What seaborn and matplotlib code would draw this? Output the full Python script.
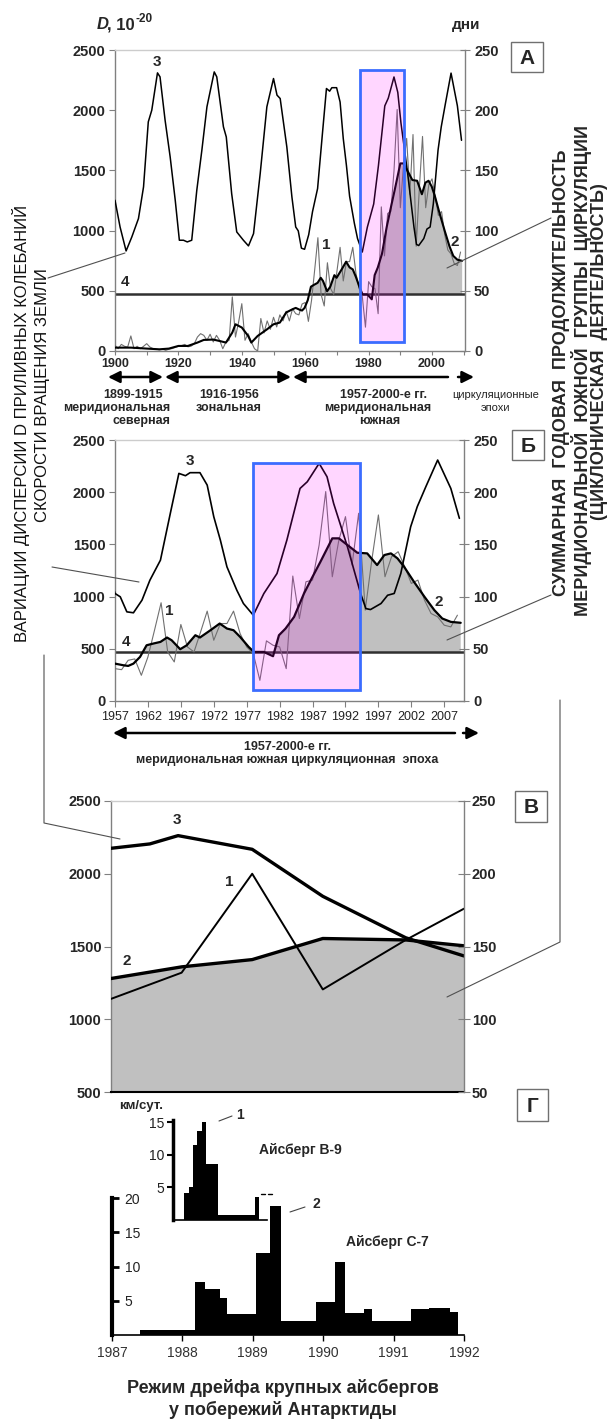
import numpy as np
import matplotlib
matplotlib.use('Agg')
import matplotlib.pyplot as plt
import seaborn as sns
from matplotlib.patches import Rectangle, FancyArrowPatch
from matplotlib.lines import Line2D

sns.set_theme(style='white')
plt.rcParams['font.family'] = ['Liberation Sans', 'DejaVu Sans']
plt.rcParams['axes.unicode_minus'] = False

# ---------------- DATA ----------------
# series 1: annual values (thin line), 1900-2009
years1 = list(range(1900, 2010))
d1 = [47, 19, 55, 39, 33, 125, 19, 39, 19, 39,
      61, 33, 20, 15, 10, 15, 5, 15, 20, 30,
      39, 45, 55, 35, 40, 60, 116, 144, 130, 89,
      139, 75, 130, 89, 19, 75, 89, 449, 116, 241,
      393, 89, 144, 75, 19, 0, 270, 150, 250, 180,
      280, 200, 300, 250, 330, 250, 350,
      310, 300, 390, 403, 246, 422, 678, 941, 470, 374,
      733, 518, 470, 662, 861, 582, 742, 742, 861, 646,
      518, 454, 198, 576, 534, 518, 310, 1197, 790, 1142,
      1158, 1494, 2006, 1190, 1542, 1766, 1302, 1798, 870, 1350,
      1782, 1190, 1382, 1430, 1286, 1126, 1158, 966, 838, 806,
      726, 710, 822]
# series 2: smoothed (thick line, filled above level 4)
years2 = [1900, 1905, 1910, 1914, 1917, 1920, 1923, 1926, 1928, 1931, 1933, 1935,
          1937, 1938, 1940, 1942, 1943, 1945, 1948, 1950, 1952, 1954, 1956,
          1957, 1958.3, 1959, 1959.8, 1960.8, 1961.8, 1962.8, 1963.9, 1964.9, 1965.6,
          1966.9, 1967.9, 1969.2, 1969.9, 1971.5, 1972.9, 1974, 1975, 1976, 1977.3,
          1978.1, 1979.6, 1981, 1981.9, 1982.9, 1984.2, 1985.7, 1987, 1988.2, 1990,
          1991, 1992.3, 1993.8, 1995.3, 1996.8, 1997.9, 1998.9, 1999.9, 2000.9, 2002.4,
          2004, 2005.5, 2006.7, 2008, 2009.5]
d2 = [28, 28, 20, 14, 20, 42, 42, 70, 92, 95, 83, 70,
      153, 222, 195, 125, 70, 125, 181, 222, 236, 320, 347,
      358, 342, 336, 358, 422, 534, 550, 566, 608, 582,
      496, 534, 630, 608, 678, 742, 694, 678, 614, 518,
      470, 470, 429, 630, 694, 806, 1030, 1190, 1334, 1558,
      1558, 1494, 1420, 1414, 1302, 1398, 1414, 1366, 1286, 1142,
      998, 870, 790, 758, 749]
# series 3: tidal dispersion D
years3 = [1900, 1901.6, 1903.5, 1905.3, 1907.4, 1909, 1910.5, 1911.6, 1913.4, 1914.2,
          1915.8, 1917.4, 1919, 1920.3, 1921.6, 1922.8, 1924.2, 1925.8, 1927.4, 1929,
          1931.3, 1932.1, 1934.2, 1935.1, 1936.8, 1938.4, 1940.5, 1942.1, 1943.7, 1945.8,
          1947.9, 1950, 1951.1, 1952.1, 1954.2, 1955.8,
          1957, 1957.8, 1958.8, 1959.8, 1961.1, 1962.3, 1963.9, 1965.4, 1966.7, 1967.7,
          1968.4, 1969.9, 1971, 1972, 1973, 1974, 1975.5, 1976.5, 1978, 1979.6,
          1981.6, 1983.1, 1985.1, 1986.2, 1988, 1989.2, 1990.2, 1992.3, 1994.3, 1995.1,
          1995.8, 1997.4, 1998.4, 1999.4, 2000.4, 2001.9, 2002.9, 2004.2, 2006, 2008, 2009.3]
d3 = [1252, 1030, 831, 947, 1100, 1363, 1903, 2000, 2310, 2277,
      1917, 1612, 1252, 920, 920, 906, 920, 1335, 1668, 2028,
      2318, 2277, 1862, 1778, 1307, 989, 920, 873, 975, 1474,
      2028, 2263, 2125, 2097, 1695, 1280,
      1030, 998, 854, 845, 966, 1157, 1349, 1797, 2180, 2158,
      2187, 2187, 2068, 1765, 1541, 1285, 1061, 934, 822, 1029,
      1221, 1541, 2036, 2100, 2276, 2148, 1893, 1477, 1029, 885,
      876, 934, 1013, 1030, 1221, 1669, 1861, 2052, 2308, 2036, 1750]
level4 = 470

# panel V (averaged periods)
v_x3 = [0, 1.1, 1.9, 4.0, 6.0, 8.35, 10]
v_d3 = [2175, 2205, 2262, 2168, 1845, 1560, 1435]
v_x12 = [0, 2, 4, 6, 8.35, 10]
v_d2 = [1280, 1360, 1410, 1555, 1545, 1505]
v_d1 = [1140, 1320, 2000, 1205, 1545, 1760]

# panel G: iceberg drift speed, km/day
c7_start = [1987.40, 1988.18, 1988.32, 1988.53, 1988.64, 1989.05, 1989.25, 1989.40,
            1989.90, 1990.17, 1990.31, 1990.58, 1990.70, 1991.25, 1991.50, 1991.80]
c7_end = [1988.18, 1988.32, 1988.53, 1988.64, 1989.05, 1989.25, 1989.40, 1989.90,
          1990.17, 1990.31, 1990.58, 1990.70, 1991.25, 1991.50, 1991.80, 1991.92]
c7_val = [0.8, 7.8, 6.7, 5.4, 3.0, 11.9, 18.9, 2.0, 4.8, 10.6, 3.2, 3.8, 2.0, 3.8, 4.0, 3.3]
b9_start = [1988.02, 1988.09, 1988.16, 1988.21, 1988.28, 1988.34, 1988.51, 1989.03]
b9_end = [1988.09, 1988.16, 1988.21, 1988.28, 1988.34, 1988.51, 1989.03, 1989.08]
b9_val = [4.2, 5.1, 11.5, 13.6, 15.1, 8.6, 0.7, 3.6]

# ---------------- FIGURE ----------------
W, H = 610, 1421
fig = plt.figure(figsize=(W / 100, H / 100), dpi=100)
fig.patch.set_facecolor('white')

GRAY_FILL = '#c0c0c0'
SP = '#808080'


def box(l, t, r, b):
    ax = fig.add_axes([l / W, 1 - b / H, (r - l) / W, (b - t) / H])
    ax.set_facecolor('none')
    return ax


def ftext(x, y, s, **kw):
    kw.setdefault('ha', 'center')
    kw.setdefault('va', 'center')
    fig.text(x / W, 1 - y / H, s, **kw)


def fline(xs, ys, **kw):
    kw.setdefault('color', '#505050')
    kw.setdefault('lw', 0.8)
    fig.add_artist(Line2D([x / W for x in xs], [1 - y / H for y in ys],
                          transform=fig.transFigure, **kw))


def farrow(x1, x2, y, style):
    fig.add_artist(FancyArrowPatch((x1 / W, 1 - y / H), (x2 / W, 1 - y / H),
                                   transform=fig.transFigure,
                                   arrowstyle=style + ',head_length=0.7,head_width=0.35',
                                   mutation_scale=10, lw=1.8, color='black',
                                   shrinkA=0, shrinkB=0))


def letter_box(l, t, r, b, s):
    fig.add_artist(Rectangle((l / W, 1 - b / H), (r - l) / W, (b - t) / H,
                             transform=fig.transFigure, fill=False,
                             edgecolor='#707070', lw=1))
    ftext((l + r) / 2, (t + b) / 2 + 1, s, fontsize=15, fontweight='bold')


def right_twin(ax, lo, hi, step, fs=10.5):
    tw = ax.twinx()
    tw.set_ylim(lo, hi)
    ticks = list(range(lo, hi + 1, step))
    tw.set_yticks(ticks, labels=[str(t) for t in ticks], fontweight='bold', fontsize=fs)
    tw.tick_params(axis='y', right=True, direction='inout', length=7, width=0.8,
                   color=SP, pad=3)
    for s in ['left', 'top', 'bottom']:
        tw.spines[s].set_visible(False)
    tw.spines['right'].set_color(SP)
    tw.spines['right'].set_linewidth(1)
    tw.grid(False)
    return tw


def base_spines(ax):
    ax.spines['left'].set_color(SP)
    ax.spines['bottom'].set_color(SP)
    ax.spines['top'].set_color('#cccccc')
    ax.spines['right'].set_visible(False)
    for s in ['left', 'bottom', 'top']:
        ax.spines[s].set_linewidth(1)
    ax.grid(False)


def draw_series(ax, lw2=1.5, lw3=1.1):
    y2 = np.array(d2, dtype=float)
    ax.fill_between(years2, y2, level4, where=y2 >= level4, interpolate=True,
                    color=GRAY_FILL, lw=0, zorder=1)
    ax.axhline(level4, color='#303030', lw=1.8, zorder=2)
    sns.lineplot(x=years1, y=d1, ax=ax, color='#707070', lw=0.8, zorder=3)
    sns.lineplot(x=years2, y=d2, ax=ax, color='black', lw=lw2, zorder=4)
    sns.lineplot(x=years3, y=d3, ax=ax, color='black', lw=lw3, zorder=4)
    ax.set_xlabel('')
    ax.set_ylabel('')


def pink(ax, x0, x1, y0, y1):
    ax.add_patch(Rectangle((x0, y0), x1 - x0, y1 - y0, facecolor=(1, 0, 1, 0.16),
                           edgecolor='none', zorder=6))
    ax.add_patch(Rectangle((x0, y0), x1 - x0, y1 - y0, fill=False,
                           edgecolor='#3b6cff', lw=2, zorder=7))


# ---------- Panel A ----------
axA = box(115, 50, 465, 351)
draw_series(axA)
axA.set_xlim(1900, 2010.4)
axA.set_ylim(0, 2500)
pink(axA, 1977.2, 1991.3, 75, 2330)
xt = list(range(1900, 2011, 10))
axA.set_xticks(xt, labels=[str(t) if (t % 20 == 0 and t <= 2000) else '' for t in xt],
               fontweight='bold', fontsize=9)
yt = list(range(0, 2501, 500))
axA.set_yticks(yt, labels=[str(t) for t in yt], fontweight='bold', fontsize=10.5)
axA.tick_params(axis='x', bottom=True, direction='out', length=3, width=0.8, color=SP, pad=2)
axA.tick_params(axis='y', left=True, direction='out', length=4, width=0.8, color=SP, pad=3)
base_spines(axA)
right_twin(axA, 0, 250, 50)

# ---------- Panel B ----------
axB = box(115, 440, 464, 701)
draw_series(axB, lw2=1.6, lw3=1.2)
axB.set_xlim(1957, 2010)
axB.set_ylim(0, 2500)
pink(axB, 1978.0, 1994.2, 109, 2283)
xt = list(range(1957, 2008, 5))
axB.set_xticks(xt, labels=[str(t) for t in xt], fontsize=9, color='#222222')
axB.set_yticks(yt, labels=[str(t) for t in yt], fontweight='bold', fontsize=10.5)
axB.tick_params(axis='x', bottom=True, direction='out', length=4, width=0.8, color=SP, pad=3)
axB.tick_params(axis='y', left=True, direction='out', length=4, width=0.8, color=SP, pad=3)
base_spines(axB)
right_twin(axB, 0, 250, 50)

# ---------- Panel V ----------
axC = box(111, 801, 464, 1092)
axC.fill_between(v_x12, v_d2, 500, color=GRAY_FILL, lw=0, zorder=1)
sns.lineplot(x=v_x12, y=v_d1, ax=axC, color='black', lw=1.4, zorder=3)
sns.lineplot(x=v_x12, y=v_d2, ax=axC, color='black', lw=2.4, zorder=4)
sns.lineplot(x=v_x3, y=v_d3, ax=axC, color='black', lw=2.4, zorder=4)
axC.set_xlabel('')
axC.set_ylabel('')
axC.set_xlim(0, 10)
axC.set_ylim(500, 2500)
axC.set_xticks([])
axC.set_yticks(yt[1:], labels=[str(t) for t in yt[1:]], fontweight='bold', fontsize=10.5)
axC.tick_params(axis='y', left=True, direction='out', length=5, width=0.8, color=SP, pad=2)
base_spines(axC)
axC.spines['bottom'].set_color('black')
axC.spines['bottom'].set_linewidth(1.5)
twC = right_twin(axC, 50, 250, 50)
twC.tick_params(axis='y', length=9, pad=1)

# ---------- Panel G ----------
axD = box(112, 1198, 464, 1335)
axD.bar(c7_start, c7_val, width=np.array(c7_end) - np.array(c7_start), align='edge',
        color='black', lw=0)
axD.set_xlim(1987, 1992)
axD.set_ylim(0, 20)
axD.set_xticks(range(1987, 1993), labels=[str(t) for t in range(1987, 1993)],
               fontsize=10, color='#333333')
axD.set_yticks([5, 10, 15, 20], labels=['5', '10', '15', '20'], fontsize=10,
               color='#222222', ha='left')
axD.tick_params(axis='x', bottom=True, direction='out', length=4, width=1, color='black', pad=4)
axD.tick_params(axis='y', left=True, direction='in', length=5, width=2, color='black', pad=-9)
for s in ['top', 'right']:
    axD.spines[s].set_visible(False)
axD.spines['left'].set_color('black')
axD.spines['left'].set_linewidth(3)
axD.spines['bottom'].set_color('black')
axD.spines['bottom'].set_linewidth(1.2)
axD.grid(False)

axE = box(173, 1120, 267, 1220)
axE.bar(b9_start, b9_val, width=np.array(b9_end) - np.array(b9_start), align='edge',
        color='black', lw=0)
axE.set_xlim(1987.87, 1989.2)
axE.set_ylim(0, 15.35)
axE.set_xticks([])
axE.set_yticks([5, 10, 15], labels=['5', '10', '15'], fontsize=10, color='#222222')
axE.tick_params(axis='y', left=True, direction='out', length=4, width=1.5, color='black', pad=2)
for s in ['top', 'right']:
    axE.spines[s].set_visible(False)
axE.spines['left'].set_color('black')
axE.spines['left'].set_linewidth(2.5)
axE.spines['bottom'].set_color('black')
axE.spines['bottom'].set_linewidth(1.2)
axE.grid(False)

# ---------------- TEXT & ANNOTATIONS ----------------
B = dict(fontweight='bold')
# header
fig.text(97 / W, 1 - 29 / H, 'D', fontsize=12, fontweight='bold', style='italic',
         ha='left', va='baseline')
fig.text(107 / W, 1 - 29 / H, ', 10', fontsize=12, fontweight='bold', ha='left', va='baseline')
fig.text(136 / W, 1 - 22 / H, '-20', fontsize=8.5, fontweight='bold', ha='left', va='baseline')
ftext(466, 25, 'дни', fontsize=11, **B)

letter_box(511, 42, 543, 72, 'А')
letter_box(512, 430, 544, 460, 'Б')
letter_box(515, 791, 547, 822, 'В')
letter_box(517, 1089, 548, 1121, 'Г')

# series numbers
for (x, y, s) in [(157, 62, '3'), (326, 245, '1'), (455, 242, '2'), (125, 282, '4'),
                  (190, 461, '3'), (169, 611, '1'), (439, 602, '2'), (126, 642, '4'),
                  (177, 820, '3'), (229, 882, '1'), (127, 961, '2')]:
    ftext(x, y, s, fontsize=11, **B)

# epochs under panel A
farrow(108, 163, 377, '<|-|>')
farrow(165, 291, 377, '<|-|>')
farrow(293, 448, 377, '<|-')
farrow(458, 474, 377, '-|>')
ftext(133, 395, '1899-1915', fontsize=9, **B)
ftext(170, 408, 'меридиональная', fontsize=9, ha='right', **B)
ftext(170, 421, 'северная', fontsize=9, ha='right', **B)
ftext(229, 395, '1916-1956', fontsize=9, **B)
ftext(229, 408, 'зональная', fontsize=9, **B)
ftext(383, 395, '1957-2000-е гг.', fontsize=9, **B)
ftext(378, 408, 'меридиональная', fontsize=9, **B)
ftext(380, 421, 'южная', fontsize=9, **B)
ftext(496, 395, 'циркуляционные', fontsize=8, color='#222222')
ftext(495, 408, 'эпохи', fontsize=8, color='#222222')

# epoch under panel B
farrow(113, 455, 733, '<|-')
farrow(463, 479, 733, '-|>')
ftext(288, 747, '1957-2000-е гг.', fontsize=9, **B)
ftext(287, 760, 'меридиональная южная циркуляционная  эпоха', fontsize=9, **B)

# vertical side labels (anchored by their top end)
ftext(21, 205, 'ВАРИАЦИИ ДИСПЕРСИИ D ПРИЛИВНЫХ КОЛЕБАНИЙ', rotation=90, fontsize=12,
      va='top', color='#111111')
ftext(43, 268, 'СКОРОСТИ ВРАЩЕНИЯ ЗЕМЛИ', rotation=90, fontsize=12, va='top',
      color='#111111')
ftext(562, 150, 'СУММАРНАЯ  ГОДОВАЯ  ПРОДОЛЖИТЕЛЬНОСТЬ', rotation=90, fontsize=13,
      va='top', **B)
ftext(581, 125, 'МЕРИДИОНАЛЬНОЙ  ЮЖНОЙ  ГРУППЫ  ЦИРКУЛЯЦИИ', rotation=90, fontsize=13,
      va='top', **B)
ftext(600, 183, '(ЦИКЛОНИЧЕСКАЯ  ДЕЯТЕЛЬНОСТЬ)', rotation=90, fontsize=13, va='top', **B)

# pointer lines
fline([48, 125], [278, 253])
fline([52, 139], [567, 582])
fline([44, 44, 120], [655, 823, 839])
fline([447, 551], [268, 218])
fline([447, 551], [640, 595])
fline([560, 560, 447], [700, 942, 997])

# panel G annotations
ftext(119, 1106, 'км/сут.', fontsize=9.5, ha='left', **B)
ftext(240, 1115, '1', fontsize=10, **B)
fline([219, 232], [1121, 1116], color='#444444')
ftext(300, 1150, 'Айсберг В-9', fontsize=10, **B)
ftext(316, 1204, '2', fontsize=10, **B)
fline([290, 305], [1212, 1207], color='#444444')
ftext(387, 1242, 'Айсберг С-7', fontsize=10, **B)
fline([261, 265], [1194, 1194], color='black', lw=1)
fline([268, 272], [1194, 1194], color='black', lw=1)
ftext(283, 1388, 'Режим дрейфа крупных айсбергов', fontsize=13, **B)
ftext(283, 1410, 'у побережий Антарктиды', fontsize=13, **B)

fig.savefig('out.png', dpi=100)
